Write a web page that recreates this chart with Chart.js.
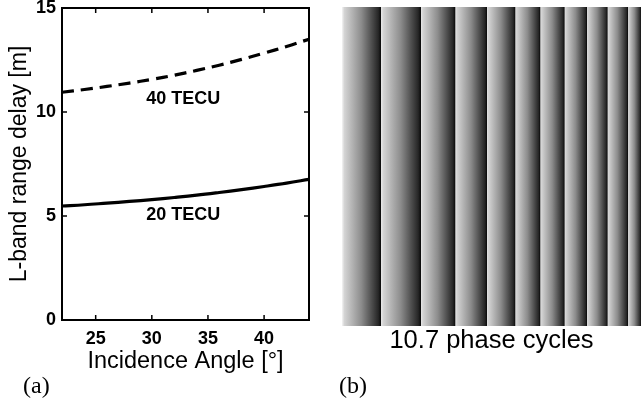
<!DOCTYPE html>
<html>
<head>
<meta charset="utf-8">
<script src="https://cdn.jsdelivr.net/npm/chart.js@4.4.1/dist/chart.umd.min.js"></script>
<style>
body { margin: 0; background: #fff; width: 641px; height: 400px; position: relative; overflow: hidden; }
#wrapA { position: absolute; left: 0; top: 0; width: 330px; height: 376px; }
#wrapB { position: absolute; left: 330px; top: 0; width: 311px; height: 356px; }
.panel { position: absolute; top: 372px; font-family: 'Liberation Serif', serif; font-size: 24px; color: #000; }
</style>
</head>
<body>
<div id="wrapA"><canvas id="delayChart"></canvas></div>
<div id="wrapB"><canvas id="phaseChart"></canvas></div>
<div class="panel" style="left:23px">(a)</div>
<div class="panel" style="left:339px">(b)</div>
<script>
// panel (a): range delay vs incidence angle
const angles = [22, 24, 26, 28, 30, 32, 34, 36, 38, 40, 42, 44];
const delay40 = [10.95, 11.08, 11.23, 11.39, 11.57, 11.77, 12.0, 12.25, 12.53, 12.83, 13.15, 13.5];
const delay20 = [5.48, 5.54, 5.62, 5.70, 5.79, 5.89, 6.0, 6.13, 6.27, 6.42, 6.58, 6.76];
const xTicks = [25, 30, 35, 40];
const yTicks = [0, 5, 10, 15];
const curveNames = ['40 TECU', '20 TECU'];
const curveNameAngle = [32.8, 32.8];
const curveNameDelay = [10.6, 5.05];

// panel (b): phase stripes, edges in image columns
const stripeEdges = [0, 38.7, 78.7, 113, 144.7, 173, 198, 222.3, 244.7, 265.3, 285.7, 299];
const phaseCycles = 10.7;

const sans = "'Liberation Sans', Arial, sans-serif";

const frame = {
    id: 'frame',
    afterDatasetsDraw(chart) {
        const { ctx, chartArea: a, scales } = chart;
        ctx.save();
        ctx.strokeStyle = '#000';
        ctx.lineWidth = 2;
        ctx.strokeRect(a.left, a.top, a.right - a.left, a.bottom - a.top);
        ctx.lineWidth = 1.5;
        ctx.beginPath();
        for (const t of xTicks) {
            const px = scales.x.getPixelForValue(t);
            ctx.moveTo(px, a.bottom); ctx.lineTo(px, a.bottom - 5);
            ctx.moveTo(px, a.top); ctx.lineTo(px, a.top + 5);
        }
        for (const t of yTicks) {
            const py = scales.y.getPixelForValue(t);
            ctx.moveTo(a.left, py); ctx.lineTo(a.left + 5, py);
            ctx.moveTo(a.right, py); ctx.lineTo(a.right - 5, py);
        }
        ctx.stroke();
        ctx.fillStyle = '#000';
        ctx.font = 'bold 18px ' + sans;
        ctx.textAlign = 'center';
        ctx.textBaseline = 'middle';
        curveNames.forEach((name, i) => {
            ctx.fillText(name, scales.x.getPixelForValue(curveNameAngle[i]), scales.y.getPixelForValue(curveNameDelay[i]));
        });
        ctx.restore();
    }
};

function noOverflow(s) {
    s.paddingTop = 0; s.paddingBottom = 0; s.paddingLeft = 0; s.paddingRight = 0;
}

new Chart(document.getElementById('delayChart'), {
    type: 'line',
    data: {
        datasets: [
            {
                label: '40 TECU',
                data: angles.map((a, i) => ({ x: a, y: delay40[i] })),
                borderColor: '#000',
                borderWidth: 3.2,
                borderDash: [12, 7],
                pointRadius: 0,
                tension: 0.4
            },
            {
                label: '20 TECU',
                data: angles.map((a, i) => ({ x: a, y: delay20[i] })),
                borderColor: '#000',
                borderWidth: 3.2,
                pointRadius: 0,
                tension: 0.4
            }
        ]
    },
    options: {
        responsive: true,
        maintainAspectRatio: false,
        animation: false,
        layout: { padding: { top: 8, right: 21, left: 0, bottom: 0 } },
        plugins: { legend: { display: false }, tooltip: { enabled: false } },
        scales: {
            x: {
                type: 'linear',
                min: 22,
                max: 44,
                afterBuildTicks: s => { s.ticks = xTicks.map(v => ({ value: v })); },
                afterFit: s => { s.height = 56; noOverflow(s); },
                grid: { display: false, drawTicks: false },
                border: { display: false },
                ticks: { color: '#000', font: { family: sans, size: 18, weight: 'bold' }, padding: 8, maxRotation: 0 },
                title: { display: true, text: 'Incidence Angle [°]', color: '#000', font: { family: sans, size: 23.5 }, padding: 0 }
            },
            y: {
                min: 0,
                max: 15,
                afterBuildTicks: s => { s.ticks = yTicks.map(v => ({ value: v })); },
                afterFit: s => { s.width = 62; noOverflow(s); },
                grid: { display: false, drawTicks: false },
                border: { display: false },
                ticks: { color: '#000', font: { family: sans, size: 18, weight: 'bold' }, padding: 6 },
                title: { display: true, text: 'L-band range delay [m]', color: '#000', font: { family: sans, size: 23 }, padding: { top: 6, bottom: 0 } }
            }
        }
    },
    plugins: [frame]
});

function stripeFill(i) {
    return (c) => {
        const chart = c.chart;
        if (!chart.chartArea) return '#888';
        const xs = chart.scales.x;
        const x0 = xs.getPixelForValue(stripeEdges[i]);
        const x1 = xs.getPixelForValue(stripeEdges[i + 1]);
        const g = chart.ctx.createLinearGradient(x0, 0, x1, 0);
        g.addColorStop(0, '#f4f4f4');
        g.addColorStop(0.06, '#d4d4d4');
        g.addColorStop(0.5, '#8c8c8c');
        g.addColorStop(0.94, '#262626');
        g.addColorStop(1, '#0c0c0c');
        return g;
    };
}

const stripes = [];
for (let i = 0; i < stripeEdges.length - 1; i++) {
    stripes.push({
        data: [[stripeEdges[i], stripeEdges[i + 1]]],
        backgroundColor: stripeFill(i),
        borderWidth: 0,
        grouped: false,
        barPercentage: 1,
        categoryPercentage: 1
    });
}

new Chart(document.getElementById('phaseChart'), {
    type: 'bar',
    data: { labels: [''], datasets: stripes },
    options: {
        indexAxis: 'y',
        responsive: true,
        maintainAspectRatio: false,
        animation: false,
        layout: { padding: { top: 7, left: 12, right: 0, bottom: 0 } },
        plugins: { legend: { display: false }, tooltip: { enabled: false } },
        scales: {
            x: {
                type: 'linear',
                min: stripeEdges[0],
                max: stripeEdges[stripeEdges.length - 1],
                afterFit: s => { s.height = 30; },
                grid: { display: false },
                border: { display: false },
                ticks: { display: false },
                title: { display: true, text: phaseCycles + ' phase cycles', color: '#000', font: { family: sans, size: 25.5 }, padding: 0 }
            },
            y: { display: false }
        }
    }
});
</script>
</body>
</html>
